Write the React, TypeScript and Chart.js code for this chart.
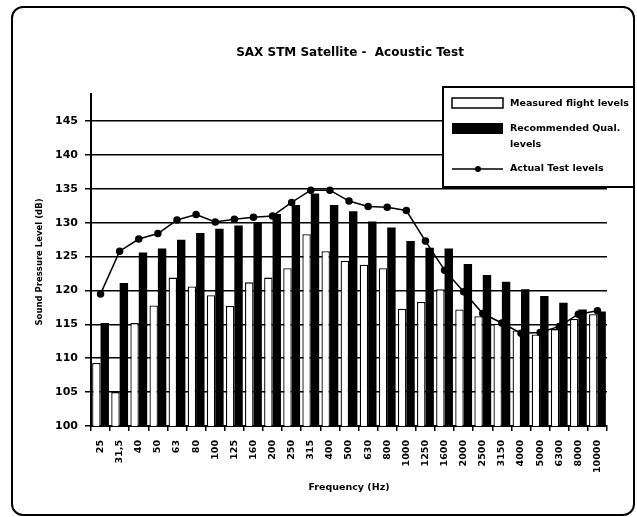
import React, { useEffect, useRef } from "react";
import { Chart, registerables } from "chart.js";

Chart.register(...registerables);

const categories = ["25", "31,5", "40", "50", "63", "80", "100", "125", "160", "200", "250", "315", "400", "500", "630", "800", "1000", "1250", "1600", "2000", "2500", "3150", "4000", "5000", "6300", "8000", "10000"];
const measuredLevels = [109.3, 105, 115.2, 117.8, 121.9, 120.6, 119.3, 117.7, 121.2, 121.9, 123.3, 128.3, 125.8, 124.4, 123.8, 123.3, 117.3, 118.3, 120.2, 117.2, 116.2, 115.1, 114.1, 113.5, 114.3, 115.8, 116.5];
const recommendedLevels = [115.2, 121.1, 125.6, 126.2, 127.5, 128.5, 129.1, 129.6, 130.1, 131.3, 132.6, 134.3, 132.6, 131.7, 130.2, 129.3, 127.3, 126.3, 126.2, 123.9, 122.3, 121.3, 120.2, 119.2, 118.2, 117.2, 116.9];
const actualLevels = [119.5, 125.8, 127.6, 128.4, 130.4, 131.2, 130.1, 130.5, 130.8, 131.0, 133.0, 134.8, 134.8, 133.2, 132.4, 132.3, 131.8, 127.3, 123.0, 119.8, 116.6, 115.2, 113.7, 113.8, 114.7, 116.5, 117.0];
const yTicks = [100, 105, 110, 115, 120, 125, 130, 135, 140, 145];

const titleText = "SAX STM Satellite -  Acoustic Test";
const yTitle = "Sound Pressure Level (dB)";
const xTitle = "Frequency (Hz)";
const legendLabels = ["Measured flight levels", "Recommended Qual.", "levels", "Actual Test levels"];

const FONT = "'DejaVu Sans', sans-serif";

const decorPlugin = {
  id: "decor",
  beforeDraw(chart: any) {
    const ctx = chart.ctx;
    ctx.save();
    ctx.fillStyle = "#ffffff";
    ctx.fillRect(0, 0, chart.width, chart.height);
    ctx.restore();
  },
  afterDraw(chart: any) {
    const ctx = chart.ctx;
    const area = chart.chartArea;
    ctx.save();
    // frame
    ctx.strokeStyle = "#000";
    ctx.lineWidth = 2;
    ctx.beginPath();
    (ctx as any).roundRect(12, 7, 622, 508, 11);
    ctx.stroke();

    // title
    ctx.fillStyle = "#000";
    ctx.textAlign = "center";
    ctx.textBaseline = "middle";
    ctx.font = `bold 12px ${FONT}`;
    ctx.fillText(titleText, 350, 53);

    // x title
    ctx.font = `bold 9.5px ${FONT}`;
    ctx.fillText(xTitle, (area.left + area.right) / 2, 488);

    // y title
    ctx.save();
    ctx.translate(40, (area.top + area.bottom) / 2 + 2);
    ctx.rotate(-Math.PI / 2);
    ctx.font = `bold 8.5px ${FONT}`;
    ctx.fillText(yTitle, 0, 0);
    ctx.restore();

    // legend
    const lx = 443, ly = 87, lw = 191, lh = 100;
    ctx.fillStyle = "#fff";
    ctx.fillRect(lx, ly, lw, lh);
    ctx.strokeStyle = "#000";
    ctx.lineWidth = 2;
    ctx.strokeRect(lx, ly, lw, lh);

    ctx.lineWidth = 1.5;
    ctx.strokeRect(452, 98, 51, 10);
    ctx.fillStyle = "#000";
    ctx.fillRect(452, 123, 51, 11);
    ctx.beginPath();
    ctx.moveTo(452, 169);
    ctx.lineTo(503, 169);
    ctx.stroke();
    ctx.beginPath();
    ctx.arc(478, 169, 3, 0, Math.PI * 2);
    ctx.fill();

    ctx.textAlign = "left";
    ctx.textBaseline = "middle";
    ctx.font = `bold 9.5px ${FONT}`;
    ctx.fillText(legendLabels[0], 510, 103.5);
    ctx.fillText(legendLabels[1], 510, 128.5);
    ctx.fillText(legendLabels[2], 510, 145);
    ctx.fillText(legendLabels[3], 510, 169);
    ctx.restore();
  },
};

export default function App() {
  const canvasRef = useRef<HTMLCanvasElement | null>(null);

  useEffect(() => {
    if (!canvasRef.current) return;
    const chart = new Chart(canvasRef.current, {
      type: "bar",
      data: {
        labels: categories,
        datasets: [
          {
            type: "line",
            label: "Actual Test levels",
            data: actualLevels,
            borderColor: "#000",
            backgroundColor: "#000",
            borderWidth: 1.5,
            pointRadius: 3,
            pointBackgroundColor: "#000",
            pointBorderColor: "#000",
            tension: 0,
            order: 0,
          } as any,
          {
            type: "bar",
            label: "Measured flight levels",
            data: measuredLevels,
            backgroundColor: "#fff",
            borderColor: "#000",
            borderWidth: 1.3,
            categoryPercentage: 0.88,
            barPercentage: 1,
            order: 1,
          },
          {
            type: "bar",
            label: "Recommended Qual. levels",
            data: recommendedLevels,
            backgroundColor: "#000",
            borderColor: "#000",
            borderWidth: 0,
            categoryPercentage: 0.88,
            barPercentage: 1,
            order: 2,
          },
        ],
      },
      options: {
        responsive: false,
        animation: false,
        devicePixelRatio: 1,
        layout: { padding: { left: 0, right: 30, top: 94, bottom: 0 } },
        plugins: {
          legend: { display: false },
          title: { display: false },
          tooltip: { enabled: false },
        },
        scales: {
          x: {
            offset: true,
            grid: {
              display: true,
              drawOnChartArea: false,
              drawTicks: true,
              tickLength: 5,
              color: "#000",
              lineWidth: 1.5,
            },
            border: { display: true, color: "#000", width: 2 },
            ticks: {
              color: "#000",
              font: { family: FONT, weight: "bold", size: 9.5 },
              minRotation: 90,
              maxRotation: 90,
              padding: 9,
              autoSkip: false,
            },
            afterFit(scale: any) {
              scale.height = 91;
            },
          },
          y: {
            min: 100,
            max: 149,
            afterBuildTicks(scale: any) {
              scale.ticks = yTicks.map((v) => ({ value: v }));
            },
            grid: {
              color: "#000",
              lineWidth: 1.5,
              tickLength: 6,
              drawTicks: true,
            },
            border: { display: true, color: "#000", width: 2 },
            ticks: {
              color: "#000",
              font: { family: FONT, weight: "bold", size: 11 },
              padding: 7,
            },
            afterFit(scale: any) {
              scale.width = 91;
            },
          },
        },
      },
      plugins: [decorPlugin],
    });
    return () => chart.destroy();
  }, []);

  return (
    <div style={{ position: "absolute", left: 0, top: 0, width: 637, height: 517, overflow: "hidden", background: "#fff" }}>
      <canvas ref={canvasRef} width={637} height={517} style={{ display: "block" }} />
    </div>
  );
}
